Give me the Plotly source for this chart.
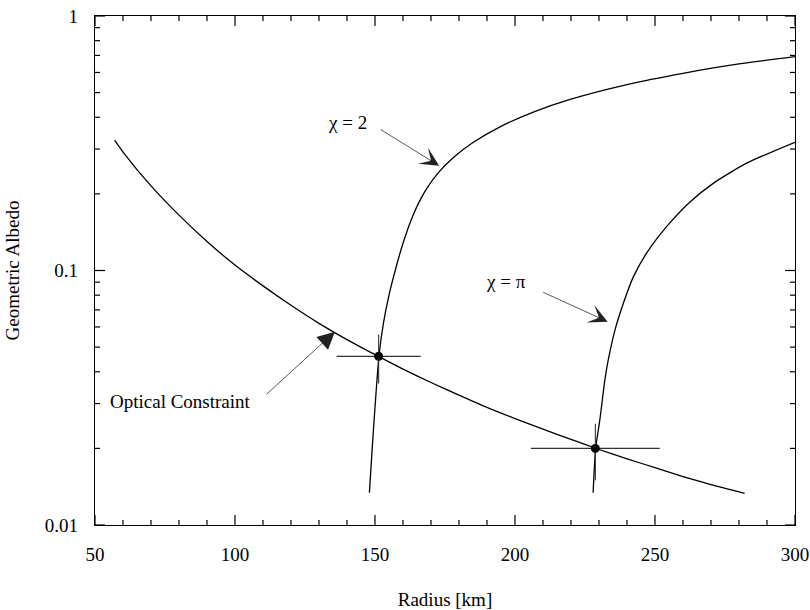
import plotly.graph_objects as go

# Optical constraint curve (radius km, geometric albedo)
optical_r = [57, 60, 70, 80, 90, 100, 110, 120, 130, 140, 150, 160, 170, 180,
             190, 200, 210, 220, 230, 240, 250, 260, 270, 282]
optical_p = [0.325, 0.292, 0.215, 0.165, 0.130, 0.105, 0.087, 0.073, 0.062,
             0.0535, 0.0467, 0.041, 0.0363, 0.0324, 0.029, 0.0262, 0.0238,
             0.0217, 0.0198, 0.0182, 0.0168, 0.0155, 0.0144, 0.0133]

# chi = 2 curve
chi2_r = [148.0, 149.0, 150.0, 151.4, 153.0, 155.0, 157.0, 160.0, 163.6, 168.0,
          172.5, 178.0, 185.0, 195.0, 207.0, 220.0, 240.0, 260.0, 280.0, 300.0]
chi2_p = [0.0134, 0.0200, 0.0290, 0.0460, 0.0620, 0.0800, 0.0980, 0.1280, 0.1650,
          0.2060, 0.2414, 0.2782, 0.3184, 0.3686, 0.4214, 0.4716, 0.5380, 0.5955,
          0.6480, 0.6920]

# chi = pi curve
chipi_r = [227.9, 228.8, 230.3, 232.1, 233.3, 235.7, 238.7, 242.3, 247.0, 254.2,
           262.5, 270.8, 282.7, 300]
chipi_p = [0.0134, 0.0200, 0.0259, 0.0372, 0.0445, 0.0583, 0.0743, 0.0946,
           0.117, 0.149, 0.186, 0.220, 0.264, 0.319]

# Solutions with error bars
sol_r = [151.3, 228.7]
sol_p = [0.046, 0.020]
sol_r_err = [15, 23]
sol_p_err = [0.010, 0.005]

x_ticks = [50, 100, 150, 200, 250, 300]
x_minor = [60, 70, 80, 90, 110, 120, 130, 140, 160, 170, 180, 190,
           210, 220, 230, 240, 260, 270, 280, 290]
y_ticks = [0.01, 0.1, 1]
y_ticklabels = ["0.01", "0.1", "1"]
y_minor = [0.02, 0.03, 0.04, 0.05, 0.06, 0.07, 0.08, 0.09,
           0.2, 0.3, 0.4, 0.5, 0.6, 0.7, 0.8, 0.9]

FONT = "Liberation Serif, Times New Roman, serif"
X_RANGE = [50, 300]
Y_RANGE = [-2, 0]          # log10 range of the albedo axis
W, H = 810, 610
M_L, M_R, M_T, M_B = 95, 15, 16, 85
PLOT_W = W - M_L - M_R
PLOT_H = H - M_T - M_B
X_PER_PX = (X_RANGE[1] - X_RANGE[0]) / PLOT_W
LOGY_PER_PX = (Y_RANGE[1] - Y_RANGE[0]) / PLOT_H
MAJOR_LEN, MINOR_LEN = 10, 5

fig = go.Figure()

line_style = dict(color="black", width=1.3, shape="spline", smoothing=0.6)
fig.add_trace(go.Scatter(x=optical_r, y=optical_p, mode="lines", line=line_style,
                         showlegend=False, hoverinfo="skip"))
fig.add_trace(go.Scatter(x=chi2_r, y=chi2_p, mode="lines", line=line_style,
                         showlegend=False, hoverinfo="skip"))
fig.add_trace(go.Scatter(x=chipi_r, y=chipi_p, mode="lines", line=line_style,
                         showlegend=False, hoverinfo="skip"))
fig.add_trace(go.Scatter(
    x=sol_r, y=sol_p, mode="markers",
    marker=dict(color="black", size=9),
    error_x=dict(type="data", array=sol_r_err, width=0, thickness=1.1, color="#333"),
    error_y=dict(type="data", array=sol_p_err, width=0, thickness=1.1, color="#333"),
    showlegend=False, hoverinfo="skip"))

# inward tick marks on all four sides, built from the tick lists on the axes' scales
tx, ty = [], []
for vals, ln in ((x_ticks, MAJOR_LEN), (x_minor, MINOR_LEN)):
    for v in vals:
        tx += [v, v, None, v, v, None]
        ty += [10 ** Y_RANGE[0], 10 ** (Y_RANGE[0] + ln * LOGY_PER_PX), None,
               10 ** Y_RANGE[1], 10 ** (Y_RANGE[1] - ln * LOGY_PER_PX), None]
for vals, ln in ((y_ticks, MAJOR_LEN), (y_minor, MINOR_LEN)):
    for v in vals:
        tx += [X_RANGE[0], X_RANGE[0] + ln * X_PER_PX, None,
               X_RANGE[1], X_RANGE[1] - ln * X_PER_PX, None]
        ty += [v, v, None, v, v, None]
fig.add_trace(go.Scatter(x=tx, y=ty, mode="lines",
                         line=dict(color="black", width=1.2),
                         connectgaps=False, cliponaxis=False,
                         showlegend=False, hoverinfo="skip"))

ann_font = dict(family=FONT, size=19, color="black")
fig.add_annotation(x=140, y=-0.419, xref="x", yref="y", text="χ = 2",
                   showarrow=False, font=ann_font)
fig.add_annotation(x=196.8, y=-1.044, xref="x", yref="y", text="χ = π",
                   showarrow=False, font=ann_font)
fig.add_annotation(x=80.5, y=-1.5155, xref="x", yref="y", text="Optical Constraint",
                   showarrow=False, font=ann_font)

# arrows
fig.add_annotation(x=172.9, y=-0.588, xref="x", yref="y", text="", showarrow=True,
                   ax=-60, ay=-37, arrowhead=3, arrowsize=4.2, arrowwidth=0.75,
                   arrowcolor="#222")
fig.add_annotation(x=233.1, y=-1.201, xref="x", yref="y", text="", showarrow=True,
                   ax=-66, ay=-30, arrowhead=3, arrowsize=4.2, arrowwidth=0.75,
                   arrowcolor="#222")
fig.add_annotation(x=135.7, y=-1.2405, xref="x", yref="y", text="", showarrow=True,
                   ax=-70, ay=64, arrowhead=2, arrowsize=4.6, arrowwidth=0.75,
                   arrowcolor="#222")

title_font = dict(family=FONT, size=19, color="black")
tick_font = dict(family=FONT, size=19, color="black")

fig.update_layout(
    xaxis=dict(range=X_RANGE, tickmode="array", tickvals=x_ticks,
               showline=True, linecolor="black", linewidth=1.2, mirror=True,
               ticks="", showgrid=False, zeroline=False, tickfont=tick_font,
               ticklabelstandoff=12,
               title=dict(text="Radius [km]", font=title_font, standoff=30)),
    yaxis=dict(type="log", range=Y_RANGE, tickmode="array", tickvals=y_ticks,
               ticktext=y_ticklabels,
               showline=True, linecolor="black", linewidth=1.2, mirror=True,
               ticks="", showgrid=False, zeroline=False, tickfont=tick_font,
               ticklabelstandoff=12,
               title=dict(text="Geometric Albedo", font=title_font, standoff=20)),
    width=W, height=H,
    margin=dict(l=M_L, r=M_R, t=M_T, b=M_B, autoexpand=False),
    paper_bgcolor="white", plot_bgcolor="white",
    font=dict(family=FONT, size=19, color="black"),
)

fig.write_html("out.html")
